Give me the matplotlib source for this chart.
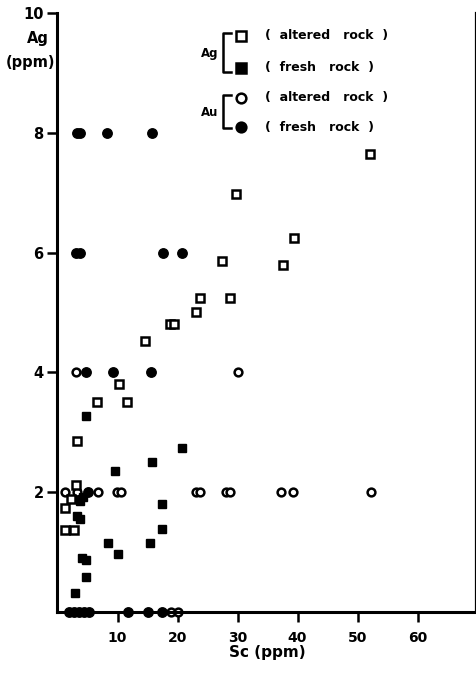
import matplotlib
matplotlib.use('Agg')
import matplotlib.pyplot as plt
from matplotlib.lines import Line2D

# Ag (ppm) vs Sc (ppm)
ag_alt_sc = [52.1, 29.7, 39.4, 27.4, 37.6, 28.7, 23.8, 23.1, 18.8, 19.4,
             14.6, 10.3, 6.5, 11.5, 3.2, 3.0, 2.3, 1.2, 1.2, 2.8]
ag_alt_ppm = [7.64, 6.97, 6.24, 5.86, 5.80, 5.25, 5.25, 5.01, 4.80, 4.80,
              4.52, 3.80, 3.51, 3.51, 2.85, 2.12, 1.88, 1.74, 1.37, 1.37]

ag_fresh_sc = [20.7, 15.7, 9.5, 4.8, 3.8, 4.3, 17.4, 3.3, 3.7, 17.4,
               8.4, 15.4, 10.05, 4.0, 4.7, 4.7, 2.95]
ag_fresh_ppm = [2.73, 2.50, 2.35, 3.27, 1.86, 1.92, 1.80, 1.60, 1.56, 1.39,
                1.15, 1.15, 0.97, 0.90, 0.86, 0.58, 0.32]

# Au plotted on the same scale
au_alt_sc = [1.2, 3.2, 6.8, 9.9, 10.5, 23.0, 23.8, 28.0, 28.8, 37.3, 39.2, 52.3,
             3.05, 30.0, 18.9, 20.0]
au_alt_val = [2, 2, 2, 2, 2, 2, 2, 2, 2, 2, 2, 2, 4, 4, 0, 0]

au_fresh_sc = [3.2, 3.8, 8.2, 15.8, 3.0, 3.8, 17.5, 20.7, 4.8, 9.3, 15.6, 5.0,
               1.9, 2.7, 3.6, 4.4, 5.2, 11.7, 15.0, 17.4]
au_fresh_val = [8, 8, 8, 8, 6, 6, 6, 6, 4, 4, 4, 2, 0, 0, 0, 0, 0, 0, 0, 0]

x_ticks = [10, 20, 30, 40, 50, 60]
y_ticks = [2, 4, 6, 8, 10]

W, H = 477, 673


def fx(px):
  return px / W


def fy(py):
  return 1 - py / H


fig = plt.figure(figsize=(W / 100, H / 100), dpi=100)
ax = fig.add_axes([fx(57.5), fy(612), (476.3 - 57.5) / W, (612 - 13) / H])

ax.plot(au_alt_sc, au_alt_val, 'o', ms=5.6, mfc='white', mec='black', mew=1.8, clip_on=False, ls='none')
ax.plot(au_fresh_sc, au_fresh_val, 'o', ms=6.8, mfc='black', mec='black', clip_on=False, ls='none')
ax.plot(ag_alt_sc, ag_alt_ppm, 's', ms=5.2, mfc='white', mec='black', mew=1.8, clip_on=False, ls='none')
ax.plot(ag_fresh_sc, ag_fresh_ppm, 's', ms=6.0, mfc='black', mec='black', clip_on=False, ls='none')

ax.set_xlim(0, 69.8)
ax.set_ylim(0, 10)
ax.set_xticks(x_ticks)
ax.set_yticks(y_ticks)
ax.set_xticklabels([str(t) for t in x_ticks], fontsize=10, fontweight='bold')
ax.set_yticklabels([str(t) for t in y_ticks], fontsize=10.5, fontweight='bold')
ax.tick_params(axis='both', direction='out', length=7, width=1.8, pad=3)
ax.tick_params(axis='x', pad=7)

ax.spines['top'].set_visible(False)
ax.spines['left'].set_linewidth(2.2)
ax.spines['bottom'].set_linewidth(2.2)
ax.spines['right'].set_linewidth(1.6)

ax.set_xlabel('Sc (ppm)', fontsize=11, fontweight='bold', labelpad=0)
fig.text(fx(38), fy(38), 'Ag', fontsize=10.5, fontweight='bold', ha='center', va='center')
fig.text(fx(31), fy(63), '(ppm)', fontsize=10.5, fontweight='bold', ha='center', va='center')

# hand-drawn style legend
def bracket(y0, y1):
  fig.add_artist(Line2D([fx(231), fx(223), fx(223), fx(231)],
                        [fy(y0), fy(y0), fy(y1), fy(y1)],
                        color='black', lw=1.8, transform=fig.transFigure))

bracket(33, 72)
bracket(95, 128)
fig.text(fx(210), fy(54), 'Ag', fontsize=8.5, fontweight='bold', ha='center', va='center')
fig.text(fx(210), fy(112), 'Au', fontsize=8.5, fontweight='bold', ha='center', va='center')

leg = [(36, 's', 'white', '(  altered   rock  )'),
       (68, 's', 'black', '(  fresh   rock  )'),
       (98, 'o', 'white', '(  altered   rock  )'),
       (127, 'o', 'black', '(  fresh   rock  )')]
for py, m, fc, label in leg:
  fig.add_artist(Line2D([fx(241.5)], [fy(py)], marker=m, ms=7.0, mfc=fc, mec='black',
                        mew=1.8, ls='none', transform=fig.transFigure))
  fig.text(fx(265), fy(py), label, fontsize=9, fontweight='bold', ha='left', va='center')

fig.savefig('out.png', dpi=100)
